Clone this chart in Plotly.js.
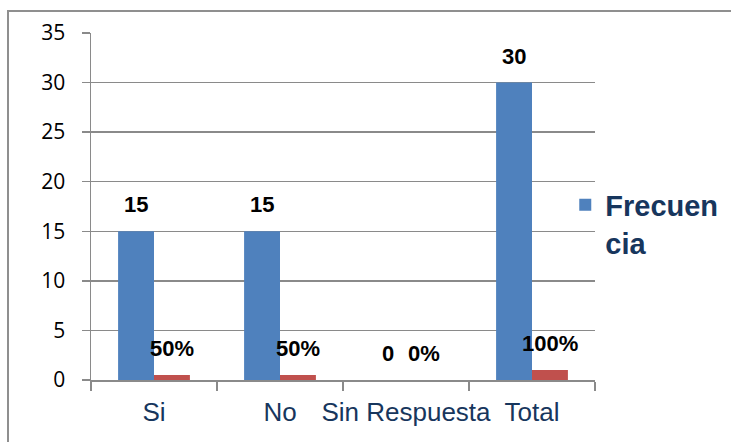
<!DOCTYPE html>
<html>
<head>
<meta charset="utf-8">
<script src="https://cdn.plot.ly/plotly-3.0.1.min.js"></script>
<style>
  html, body { margin: 0; padding: 0; background: #ffffff; overflow: hidden; width: 731px; height: 442px; }
  #frame { position: absolute; left: 7px; top: 10px; width: 760px; height: 445px; border: 2px solid #8f8f8f; background: #fff; }
  #chart { width: 760px; height: 445px; }
</style>
</head>
<body>
<div id="frame"><div id="chart"></div></div>
<script>
const categories = ['Si', 'No', 'Sin Respuesta', 'Total'];
const frecuencia = [15, 15, 0, 30];
const porcentaje = [0.5, 0.5, 0, 1];
const frecuenciaLabels = ['15', '15', '0', '30'];
const porcentajeLabels = ['50%', '50%', '0%', '100%'];
const seriesNames = ['Frecuen<br>cia', 'Porcentaje'];

const blue = '#4F81BD';
const red = '#C0504D';
const navy = '#17365D';
const grid = '#8a8a8a';
const bargap = 0.43;
const half = (1 - bargap) / 4;

const traces = [
  { type: 'bar', x: categories, y: frecuencia, name: seriesNames[0], marker: { color: blue }, showlegend: true, hoverinfo: 'none' },
  { type: 'bar', x: categories, y: porcentaje, name: seriesNames[1], marker: { color: red }, showlegend: false, hoverinfo: 'none' }
];

const labelFont = { family: 'Liberation Sans, Arial, sans-serif', size: 22, color: '#000', weight: 'bold' };
const annotations = [];
categories.forEach((c, i) => {
  annotations.push({ x: i - half, y: frecuencia[i], xref: 'x', yref: 'y', text: frecuenciaLabels[i], showarrow: false, yanchor: 'bottom', yshift: 12, font: labelFont });
  annotations.push({ x: i + half, y: porcentaje[i], xref: 'x', yref: 'y', text: porcentajeLabels[i], showarrow: false, yanchor: 'bottom', yshift: 12, font: labelFont });
});

const layout = {
  width: 760, height: 445,
  margin: { l: 82, r: 174, t: 21, b: 77 },
  paper_bgcolor: '#fff', plot_bgcolor: '#fff',
  barmode: 'group', bargap: bargap, bargroupgap: 0,
  xaxis: {
    type: 'category',
    tickangle: 0,
    showline: true, linecolor: grid, linewidth: 2,
    ticks: 'outside', tickson: 'boundaries', ticklen: 9, tickcolor: grid, tickwidth: 1.5,
    showgrid: false,
    tickfont: { family: 'Liberation Sans, Arial, sans-serif', size: 26, color: navy },
    ticklabelstandoff: 8
  },
  yaxis: {
    range: [0, 35], dtick: 5, tick0: 0,
    showline: true, linecolor: grid, linewidth: 1.5,
    ticks: 'outside', ticklen: 8, tickcolor: grid, tickwidth: 1.5,
    showgrid: true, gridcolor: grid, gridwidth: 1.5,
    zeroline: false,
    tickfont: { family: 'Open Sans, sans-serif', size: 21, color: '#000' },
    ticklabelstandoff: 12
  },
  showlegend: true,
  legend: {
    x: 0.941, xanchor: 'left', y: 0.578, yanchor: 'top',
    valign: 'top', itemwidth: 30,
    bgcolor: 'rgba(0,0,0,0)',
    font: { family: 'Liberation Sans, Arial, sans-serif', size: 29, color: navy, weight: 'bold' }
  },
  annotations: annotations
};

Plotly.newPlot('chart', traces, layout, { displayModeBar: false, staticPlot: true });
</script>
</body>
</html>
